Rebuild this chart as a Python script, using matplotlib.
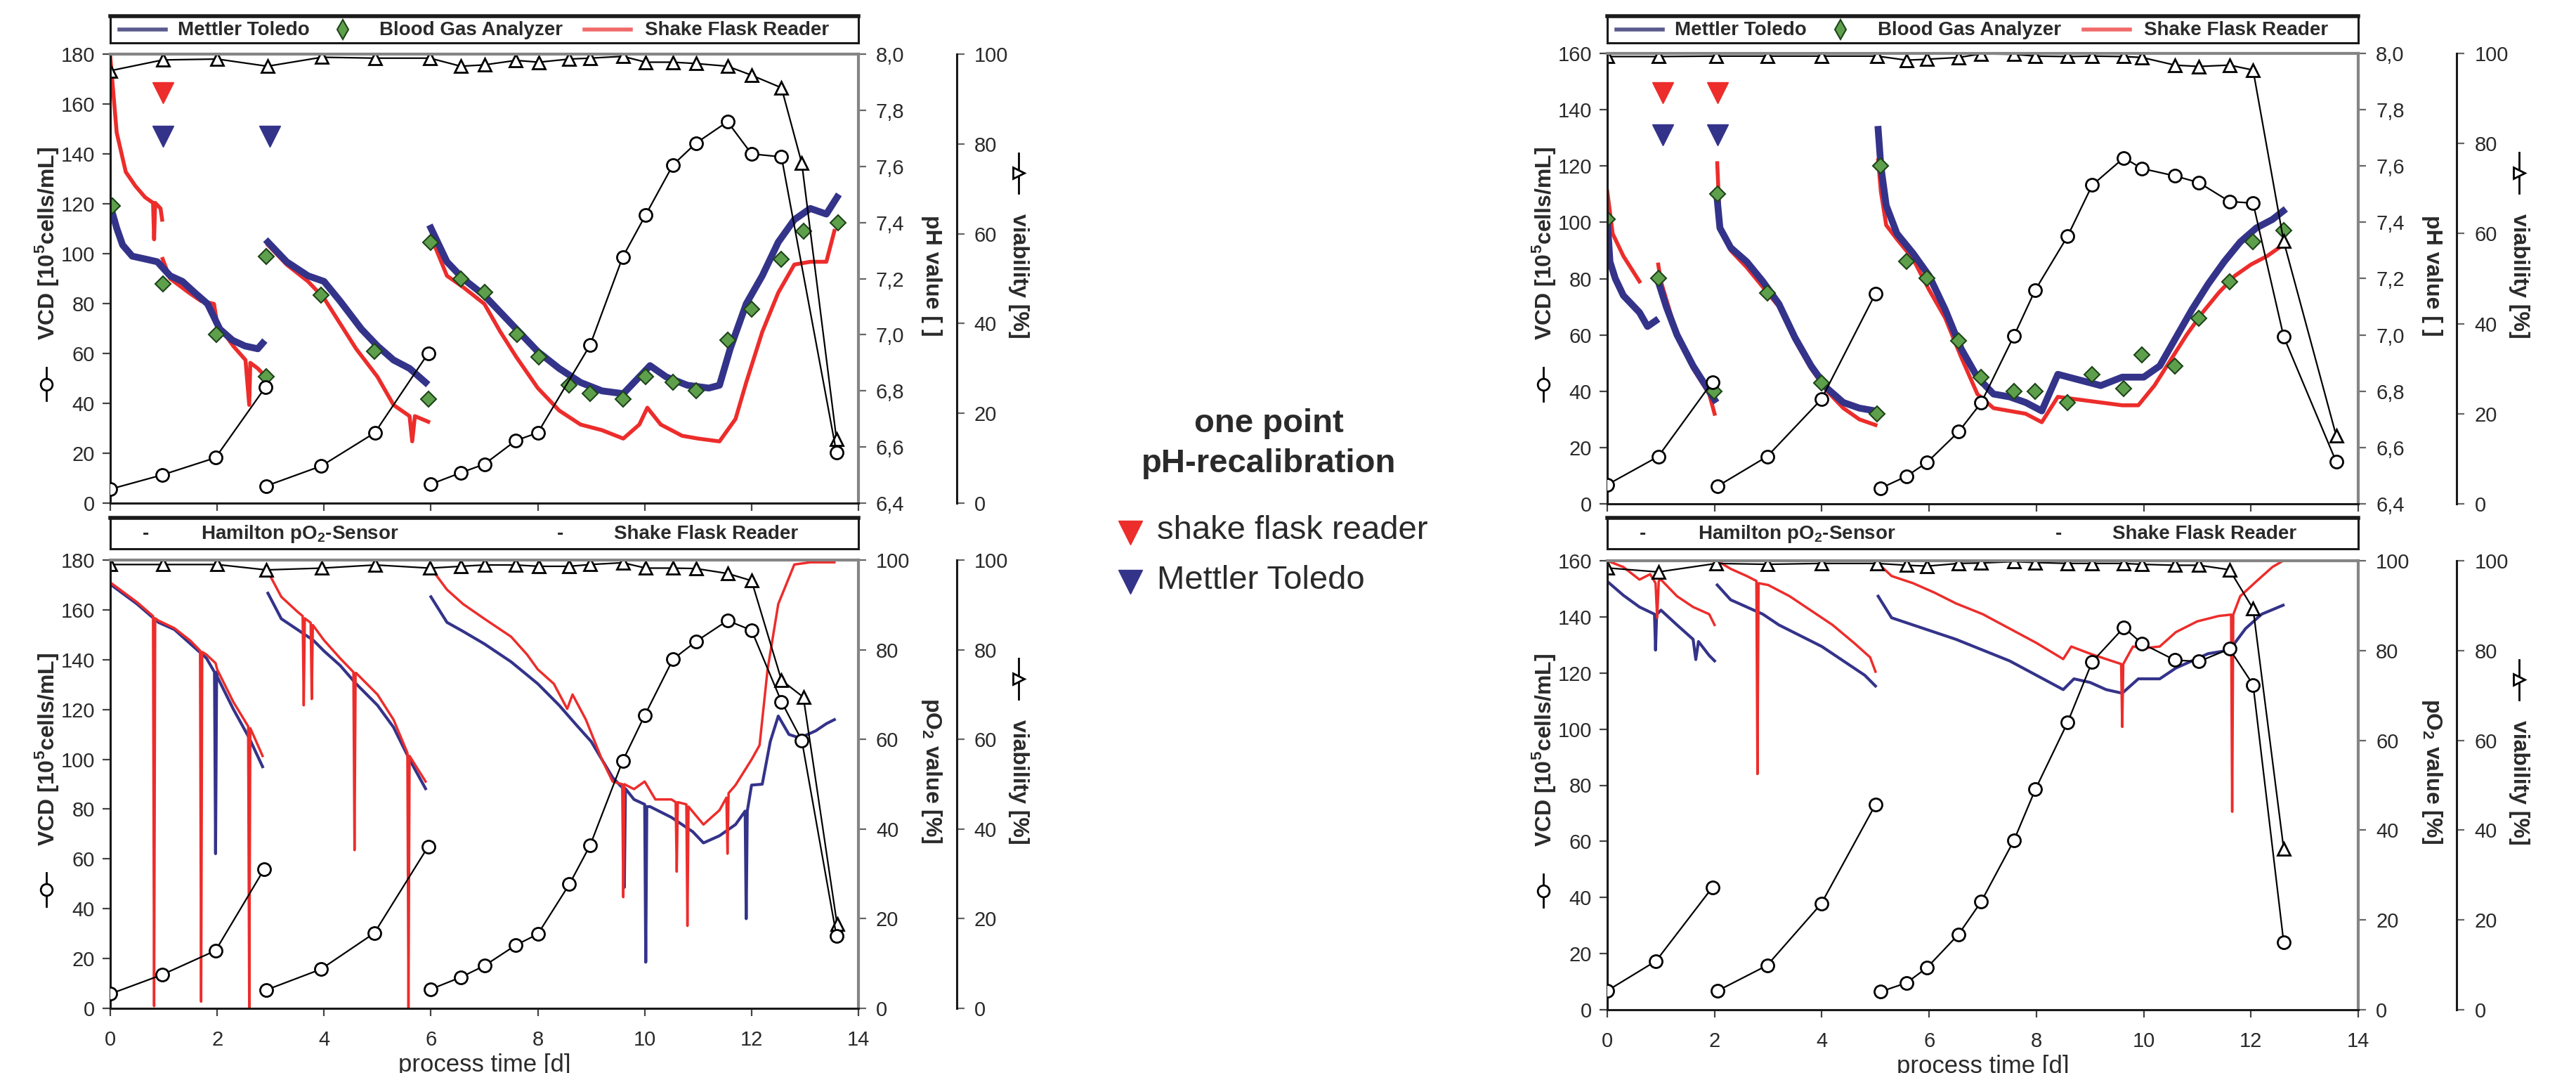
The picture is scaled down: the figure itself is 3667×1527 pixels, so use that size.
import matplotlib
matplotlib.use('Agg')
import matplotlib.pyplot as plt
from matplotlib.lines import Line2D
from matplotlib.ticker import MultipleLocator, FuncFormatter

plt.rcParams['font.family'] = ['Liberation Sans', 'DejaVu Sans']
plt.rcParams['mathtext.fontset'] = 'custom'
plt.rcParams['mathtext.rm'] = 'Liberation Sans'
plt.rcParams['mathtext.bf'] = 'Liberation Sans:bold'

# ================= data: top left (pH, run 1) =================
tl_vcd_days = [[0, 0.97, 1.97, 2.9], [2.92, 3.95, 4.95, 5.95],
               [6.0, 6.56, 7.0, 7.59, 8.0, 8.98, 9.59, 10.02, 10.53, 10.96, 11.55, 12.0, 12.56, 13.59]]
tl_vcd = [[5.6, 11.3, 18.2, 46.4], [6.9, 14.9, 28.2, 60.1],
          [7.6, 12.2, 15.6, 25.1, 28.2, 63.4, 98.7, 115.6, 135.6, 144.3, 152.9, 140.0, 138.8, 20.2]]
tl_via_days = [0, 0.98, 2.0, 2.94, 3.96, 4.96, 5.98, 6.56, 7.0, 7.59, 8.02, 8.59, 8.98, 9.59,
               10.02, 10.53, 10.96, 11.55, 12.0, 12.56, 12.94, 13.59]
tl_via = [96.3, 98.7, 98.9, 97.3, 99.3, 99.1, 99.1, 97.3, 97.6, 98.6, 98.2, 98.9, 99.1, 99.5,
          98.2, 98.2, 97.9, 97.3, 95.3, 92.5, 75.7, 14.2]
tl_bga_days = [0.04, 0.98, 1.98, 2.92, 2.92, 3.94, 4.94, 5.95, 6.0, 6.56, 7.0, 7.61, 8.02, 8.59,
               8.98, 9.59, 10.02, 10.53, 10.96, 11.55, 12.0, 12.56, 12.97, 13.62]
tl_bga = [7.46, 7.18, 7.00, 6.85, 7.28, 7.14, 6.94, 6.77, 7.33, 7.20, 7.15, 7.00, 6.92, 6.82,
          6.79, 6.77, 6.85, 6.83, 6.80, 6.98, 7.09, 7.27, 7.37, 7.40]
tl_mt_days = [[0, 0.12, 0.23, 0.41, 0.65, 0.88, 1.12, 1.35, 1.58, 1.82, 2.05, 2.29, 2.52, 2.76, 2.85],
              [2.95, 3.3, 3.7, 4.0, 4.3, 4.7, 5.0, 5.3, 5.6, 5.9],
              [6.0, 6.3, 6.6, 7.0, 7.3, 7.6, 8.0, 8.4, 8.8, 9.2, 9.6, 9.9, 10.1, 10.4, 10.8, 11.2,
               11.4, 11.6, 11.9, 12.2, 12.5, 12.8, 13.1, 13.4, 13.6]]
tl_mt_ph = [[7.46, 7.38, 7.32, 7.28, 7.27, 7.26, 7.21, 7.19, 7.15, 7.11, 7.02, 6.98, 6.96, 6.95, 6.97],
            [7.33, 7.26, 7.21, 7.19, 7.12, 7.02, 6.96, 6.91, 6.88, 6.83],
            [7.38, 7.26, 7.20, 7.14, 7.08, 7.02, 6.94, 6.88, 6.83, 6.80, 6.79, 6.85, 6.89, 6.85, 6.82,
             6.81, 6.82, 6.95, 7.11, 7.21, 7.33, 7.41, 7.45, 7.43, 7.49]]
tl_sfr_days = [[0, 0.12, 0.29, 0.47, 0.65, 0.8, 0.82, 0.84, 0.94, 0.97],
               [0.98, 1.12, 1.47, 1.7, 1.94, 2.0, 2.3, 2.53, 2.6, 2.62, 2.76, 2.86],
               [2.95, 3.3, 3.7, 4.0, 4.3, 4.6, 5.0, 5.3, 5.6, 5.65, 5.7, 5.95],
               [6.0, 6.3, 6.6, 7.0, 7.3, 7.6, 8.0, 8.4, 8.8, 9.2, 9.6, 9.9, 10.05, 10.3, 10.7, 11.0,
                11.4, 11.7, 11.9, 12.2, 12.5, 12.8, 13.1, 13.4, 13.55]]
tl_sfr_ph = [[7.99, 7.72, 7.58, 7.53, 7.49, 7.47, 7.34, 7.47, 7.45, 7.41],
             [7.27, 7.20, 7.15, 7.12, 7.11, 7.04, 6.96, 6.91, 6.75, 6.90, 6.88, 6.86],
             [7.32, 7.25, 7.19, 7.13, 7.04, 6.95, 6.85, 6.75, 6.71, 6.62, 6.71, 6.69],
             [7.35, 7.21, 7.17, 7.11, 7.01, 6.92, 6.81, 6.73, 6.68, 6.66, 6.63, 6.68, 6.74, 6.68, 6.64,
              6.63, 6.62, 6.70, 6.83, 7.01, 7.15, 7.25, 7.26, 7.26, 7.37]]
tl_recal_red_days = [0.98]
tl_recal_red_y = [164.5]
tl_recal_blue_days = [0.98, 2.98]
tl_recal_blue_y = [147, 147]

# ================= data: bottom left (pO2, run 1) =================
bl_vcd_days = [[0, 0.97, 1.97, 2.88], [2.92, 3.94, 4.94, 5.95],
               [6.0, 6.56, 7.0, 7.59, 8.0, 8.59, 8.98, 9.59, 10.0, 10.53, 10.96, 11.55, 12.0, 12.56, 12.94, 13.59]]
bl_vcd = [[5.8, 13.5, 23.2, 55.9], [7.4, 15.7, 30.2, 65.0],
          [7.7, 12.5, 17.1, 25.4, 29.8, 49.8, 65.5, 99.4, 117.6, 140.2, 147.3, 155.7, 151.8, 123.1, 107.6, 29.0]]
bl_via_days = [0, 0.98, 2.0, 2.92, 3.96, 4.96, 5.98, 6.56, 7.0, 7.59, 8.02, 8.59, 8.98, 9.59,
               10.02, 10.53, 10.96, 11.55, 12.0, 12.56, 12.97, 13.6]
bl_via = [99, 99, 99, 97.8, 98.2, 98.9, 98.2, 98.6, 98.9, 98.9, 98.6, 98.6, 99, 99.4,
          98.2, 98.2, 98.1, 97.0, 95.4, 73.2, 69.4, 18.8]
bl_ham_days = [[0, 0.5, 0.9, 1.2, 1.5, 1.8, 1.95, 1.97, 1.99, 2.0, 2.3, 2.6, 2.85],
               [2.95, 3.2, 3.5, 3.8, 4.0, 4.3, 4.6, 5.0, 5.3, 5.6, 5.9],
               [6.0, 6.3, 6.6, 7.0, 7.5, 8.0, 8.4, 8.7, 9.0, 9.4, 9.6, 9.62, 9.64, 9.8, 10.0, 10.02,
                10.04, 10.1, 10.5, 10.9, 11.1, 11.4, 11.7, 11.88, 11.9, 11.92, 12.0, 12.2, 12.35, 12.5,
                12.7, 12.9, 13.2, 13.4, 13.55]]
bl_ham_po2 = [[94.6, 90.2, 86.1, 84.5, 81.3, 78.1, 75.0, 34.5, 75.0, 74.0, 66.8, 60.3, 53.9],
              [92.6, 86.9, 84.5, 82.1, 79.7, 76.5, 72.4, 67.6, 62.7, 55.5, 49.0],
              [91.8, 86.1, 84.1, 81.3, 77.3, 72.4, 67.6, 63.5, 59.5, 51.5, 49.0, 27.0, 49.0, 46.6, 45.5,
               10.3, 45.0, 45.0, 42.6, 39.4, 36.9, 38.5, 41.0, 44.0, 20.0, 44.0, 49.8, 50.0, 59.5, 65.2,
               61.1, 60.3, 61.9, 63.5, 64.4]]
bl_sfr_days = [[0, 0.5, 0.8, 0.82, 0.84, 0.9, 1.2, 1.5, 1.68, 1.7, 1.72, 1.8, 1.97, 2.0, 2.3, 2.58,
                2.6, 2.62, 2.85],
               [2.95, 3.2, 3.5, 3.6, 3.62, 3.64, 3.75, 3.77, 3.79, 4.0, 4.3, 4.55, 4.57, 4.59, 4.6, 5.0,
                5.3, 5.56, 5.58, 5.6, 5.9],
               [6.0, 6.3, 6.6, 7.0, 7.5, 7.8, 8.0, 8.3, 8.55, 8.65, 8.9, 9.2, 9.4, 9.58, 9.6, 9.62, 9.8,
                10.0, 10.2, 10.5, 10.58, 10.6, 10.62, 10.78, 10.8, 10.82, 11.1, 11.4, 11.53, 11.55,
                11.57, 11.7, 12.0, 12.15, 12.3, 12.5, 12.8, 13.1, 13.55]]
bl_sfr_po2 = [[95.0, 90.6, 87.5, 0.5, 87.0, 86.5, 84.8, 82.0, 79.8, 1.5, 79.5, 78.9, 77.0, 75.6, 68.4,
               62.9, 0.0, 62.5, 56.3],
              [97.4, 91.8, 88.5, 87.5, 67.6, 87.0, 86.0, 69.0, 85.5, 82.1, 78.1, 75.0, 35.3, 74.8, 74.8,
               70.0, 64.4, 57.0, 0.0, 56.3, 50.6],
              [98.2, 93.4, 90.2, 86.9, 82.9, 78.9, 75.6, 72.4, 66.8, 70.0, 64.4, 55.5, 50.6, 50.0, 24.8,
               50.0, 48.9, 50.6, 46.6, 46.6, 46.0, 30.5, 46.0, 45.5, 18.4, 45.0, 41.0, 44.2, 47.0, 34.5,
               48.0, 49.8, 55.5, 58.7, 75.6, 90.2, 99.0, 99.5, 99.5]]

# ================= data: top right (pH, run 2) =================
tr_vcd_days = [[0, 0.95, 1.96], [2.05, 2.98, 3.99, 5.0],
               [5.09, 5.58, 5.96, 6.55, 6.97, 7.58, 7.98, 8.58, 9.04, 9.63, 9.97, 10.58, 11.03, 11.6,
                12.04, 12.61, 13.59]]
tr_vcd = [[6.8, 16.8, 43.3], [6.2, 16.8, 37.1, 74.7],
          [5.5, 9.8, 14.7, 25.6, 35.9, 59.6, 76.0, 95.0, 113.2, 122.9, 119.1, 116.5, 114.1, 107.4,
           106.8, 59.4, 14.9]]
tr_via_days = [0, 0.95, 2.03, 2.98, 3.99, 5.03, 5.58, 5.96, 6.55, 6.97, 7.58, 7.98, 8.58, 9.04,
               9.63, 9.97, 10.58, 11.03, 11.6, 12.04, 12.61, 13.59]
tr_via = [99.3, 99.3, 99.4, 99.4, 99.4, 99.4, 98.5, 98.7, 99.1, 99.9, 99.8, 99.4, 99.3, 99.4,
          99.3, 99.1, 97.4, 97.1, 97.4, 96.3, 58.3, 15.1]
tr_bga_days = [0, 0.95, 1.99, 2.05, 2.98, 3.99, 5.03, 5.09, 5.58, 5.96, 6.55, 6.97, 7.58, 7.98,
               8.58, 9.04, 9.63, 9.97, 10.58, 11.03, 11.6, 12.04, 12.61]
tr_bga = [7.41, 7.20, 6.80, 7.50, 7.15, 6.83, 6.72, 7.60, 7.26, 7.20, 6.98, 6.85, 6.80, 6.80,
          6.76, 6.86, 6.81, 6.93, 6.89, 7.06, 7.19, 7.33, 7.37]
tr_mt_days = [[0, 0.05, 0.15, 0.3, 0.45, 0.6, 0.75, 0.9],
              [0.95, 1.1, 1.3, 1.6, 1.9, 2.0],
              [2.05, 2.1, 2.3, 2.6, 2.9, 3.2, 3.5, 3.8, 4.1, 4.4, 4.7, 5.0],
              [5.05, 5.1, 5.2, 5.4, 5.7, 6.0, 6.3, 6.6, 6.9, 7.2, 7.5, 7.8, 8.1, 8.4, 8.8, 9.2, 9.6,
               10.0, 10.3, 10.6, 10.9, 11.2, 11.5, 11.8, 12.1, 12.4, 12.6]]
tr_mt_ph = [[7.41, 7.26, 7.20, 7.14, 7.11, 7.08, 7.03, 7.05],
            [7.19, 7.10, 7.00, 6.89, 6.80, 6.77],
            [7.48, 7.38, 7.31, 7.26, 7.19, 7.11, 6.99, 6.89, 6.81, 6.76, 6.74, 6.73],
            [7.73, 7.60, 7.46, 7.36, 7.29, 7.21, 7.09, 6.95, 6.85, 6.79, 6.78, 6.76, 6.73, 6.86, 6.84,
             6.82, 6.85, 6.85, 6.89, 6.99, 7.09, 7.18, 7.26, 7.33, 7.38, 7.41, 7.44]]
tr_sfr_days = [[0, 0.1, 0.3, 0.5, 0.6],
               [0.95, 1.0, 1.3, 1.6, 1.9, 2.0],
               [2.05, 2.1, 2.3, 2.6, 2.9, 3.2, 3.5, 3.8, 4.1, 4.4, 4.7, 5.0],
               [5.05, 5.1, 5.2, 5.4, 5.7, 6.0, 6.3, 6.6, 6.9, 7.2, 7.5, 7.8, 8.1, 8.4, 8.8, 9.2, 9.6,
                9.9, 10.2, 10.5, 10.8, 11.1, 11.4, 11.7, 12.0, 12.3, 12.6]]
tr_sfr_ph = [[7.51, 7.36, 7.28, 7.22, 7.19],
             [7.25, 7.19, 7.00, 6.88, 6.79, 6.72],
             [7.61, 7.39, 7.30, 7.24, 7.17, 7.10, 6.98, 6.88, 6.80, 6.74, 6.70, 6.68],
             [7.62, 7.51, 7.39, 7.34, 7.27, 7.16, 7.06, 6.92, 6.79, 6.74, 6.73, 6.72, 6.69, 6.78, 6.77,
              6.76, 6.75, 6.75, 6.82, 6.91, 7.00, 7.08, 7.15, 7.21, 7.25, 7.28, 7.32]]
tr_recal_red_days = [1.04, 2.05]
tr_recal_red_y = [146, 146]
tr_recal_blue_days = [1.04, 2.05]
tr_recal_blue_y = [131, 131]

# ================= data: bottom right (pO2, run 2) =================
br_vcd_days = [[0, 0.91, 1.96], [2.05, 2.98, 3.99, 5.0],
               [5.09, 5.58, 5.96, 6.55, 6.97, 7.58, 7.98, 8.58, 9.04, 9.63, 9.97, 10.58, 11.03, 11.6,
                12.04, 12.61]]
br_vcd = [[6.8, 17.4, 43.6], [6.7, 15.8, 37.8, 73.1],
          [6.4, 9.6, 15.0, 26.9, 38.5, 60.3, 78.5, 102.3, 124.0, 136.2, 130.5, 124.6, 124.1, 128.6,
           115.8, 24.1]]
br_via_days = [0, 0.95, 2.03, 2.98, 3.99, 5.03, 5.58, 5.96, 6.55, 6.97, 7.58, 7.98, 8.58, 9.04,
               9.63, 9.97, 10.58, 11.03, 11.6, 12.04, 12.61]
br_via = [98.4, 97.5, 99.4, 99.2, 99.4, 99.4, 99.0, 98.8, 99.4, 99.5, 99.8, 99.6, 99.4, 99.4,
          99.4, 99.2, 99.0, 99.0, 98.0, 89.3, 35.9]
br_ham_days = [[0, 0.3, 0.6, 0.88, 0.9, 0.92, 1.0, 1.3, 1.6, 1.65, 1.7, 1.9, 2.0],
               [2.05, 2.3, 2.6, 2.9, 3.2, 3.6, 4.0, 4.4, 4.8, 5.0],
               [5.05, 5.3, 5.7, 6.1, 6.5, 7.0, 7.5, 8.0, 8.5, 8.7, 9.0, 9.3, 9.6, 9.9, 10.3, 10.6,
                10.9, 11.2, 11.6, 11.9, 12.2, 12.6]]
br_ham_po2 = [[95.4, 92.3, 89.7, 88.1, 80.1, 88.0, 89.0, 85.7, 82.5, 78.0, 82.0, 78.9, 77.7],
              [94.6, 91.3, 89.7, 88.1, 85.7, 83.3, 80.9, 77.7, 74.5, 72.1],
              [92.1, 87.3, 85.7, 84.1, 82.5, 80.1, 77.7, 74.5, 71.3, 73.7, 72.9, 71.3, 70.5, 73.7,
               73.7, 76.1, 77.7, 79.3, 80.1, 84.9, 88.1, 90.1]]
br_sfr_days = [[0, 0.3, 0.6, 0.8, 0.9, 0.93, 0.96, 1.0, 1.3, 1.6, 1.9, 2.0],
               [2.05, 2.3, 2.6, 2.78, 2.8, 2.82, 3.0, 3.4, 3.8, 4.2, 4.6, 4.9, 5.0],
               [5.05, 5.3, 5.7, 6.1, 6.5, 7.0, 7.5, 8.0, 8.5, 8.65, 9.0, 9.3, 9.58, 9.6, 9.62, 9.8,
                10.0, 10.3, 10.6, 11.0, 11.4, 11.63, 11.65, 11.67, 11.8, 12.1, 12.4, 12.6]]
br_sfr_po2 = [[100.0, 98.6, 95.8, 97.0, 95.0, 87.3, 95.5, 95.8, 92.1, 89.7, 88.1, 85.7],
              [100.0, 98.2, 96.6, 95.5, 52.5, 95.0, 94.6, 92.1, 88.9, 85.7, 81.7, 78.5, 75.3],
              [99.4, 96.6, 95.0, 92.9, 90.5, 88.1, 84.9, 81.7, 78.1, 80.9, 79.3, 78.1, 77.0, 63.0,
               77.0, 80.9, 80.5, 80.9, 84.1, 86.5, 87.7, 88.0, 44.1, 88.0, 92.1, 95.4, 98.6, 100.0]]

# ================= style =================
BLUE = '#34338a'
RED = '#ec2d2b'
GREEN = '#5e9f4c'
GREEN_EDGE = '#1d4419'
SPINE_GRAY = '#858585'
TXT = '#2a2a2a'
W, H = 3667, 1527

ph_fmt = FuncFormatter(lambda v, p: '{:.1f}'.format(v).replace('.', ','))
int_fmt = FuncFormatter(lambda v, p: '{:.0f}'.format(v))


def rect(x0, y0, x1, y1):
    return [x0 / W, 1 - y1 / H, (x1 - x0) / W, (y1 - y0) / H]


def label_symbol(ax, x, y0, y1, marker):
    # the little "line + marker" key that sits in front of an axis title
    ax.add_line(Line2D([x, x], [y0, y1], transform=ax.transAxes, color='black', lw=2,
                       clip_on=False))
    ax.add_line(Line2D([x], [(y0 + y1) / 2], transform=ax.transAxes, marker=marker, ms=12,
                       mfc='white', mec='black', mew=2, clip_on=False))


def make_panel(box, vcd_top, right_lim, right_step, right_fmt, right_label, right_y, xlabels):
    ax = fig.add_axes(rect(*box))
    ax2 = ax.twinx()
    ax3 = ax.twinx()
    ax2.set_zorder(1)
    ax3.set_zorder(2)
    ax.set_zorder(3)
    ax.patch.set_visible(False)
    ax3.patch.set_visible(False)

    ax.set_xlim(0, 14)
    ax.set_ylim(0, vcd_top)
    ax.xaxis.set_major_locator(MultipleLocator(2))
    ax.yaxis.set_major_locator(MultipleLocator(20))
    ax2.set_ylim(*right_lim)
    ax2.yaxis.set_major_locator(MultipleLocator(right_step))
    ax2.yaxis.set_major_formatter(right_fmt)
    ax3.set_ylim(0, 100)
    ax3.yaxis.set_major_locator(MultipleLocator(20))

    for s in ['left', 'bottom']:
        ax.spines[s].set_color('#1a1a1a')
        ax.spines[s].set_linewidth(2.2)
    for s in ['top', 'right']:
        ax.spines[s].set_color(SPINE_GRAY)
        ax.spines[s].set_linewidth(3)
    for s in ax2.spines.values():
        s.set_visible(False)
    for k, s in ax3.spines.items():
        s.set_visible(k == 'right')
    ax3.spines['right'].set_position(('axes', 1 + 140 / 1066))
    ax3.spines['right'].set_color('#1a1a1a')
    ax3.spines['right'].set_linewidth(2.2)

    ax.tick_params(axis='y', direction='out', length=8, width=1.6, pad=8, labelsize=21,
                   color='#444444', labelcolor=TXT)
    ax.tick_params(axis='x', direction='out', length=8, width=1.6, pad=14, labelsize=21,
                   color='#444444', labelcolor=TXT, labelbottom=xlabels)
    ax2.tick_params(axis='y', direction='out', length=8, width=1.6, pad=10, labelsize=21,
                    color='#666666', labelcolor=TXT)
    ax3.tick_params(axis='y', direction='out', length=8, width=1.6, pad=10, labelsize=21,
                    color='#666666', labelcolor=TXT)
    ax3.yaxis.set_major_formatter(int_fmt)

    lab = dict(fontsize=23, fontweight='bold', color=TXT, ha='center', va='center')
    ax.text(-0.085, 0.578, 'VCD [10$^\\mathbf{5}$cells/mL]', transform=ax.transAxes,
            rotation=90, **lab)
    label_symbol(ax, -0.085, 0.228, 0.302, 'o')
    ax.text(1.098, right_y, right_label, transform=ax.transAxes, rotation=270, **lab)
    ax.text(1.214, 0.505, 'viability [%]', transform=ax.transAxes, rotation=270, **lab)
    label_symbol(ax, 1.214, 0.69, 0.78, '>')
    if xlabels:
        ax.set_xlabel('process time [d]', fontsize=25, color=TXT, labelpad=4)
    return ax, ax2, ax3


def plot_vcd_via(ax, ax3, vcd_days, vcd, via_days, via):
    for d, v in zip(vcd_days, vcd):
        ax.plot(d, v, color='black', lw=1.6, marker='o', ms=13, mfc='white', mec='black', mew=2,
                zorder=5)
    ax3.plot(via_days, via, color='black', lw=1.6, marker='^', ms=13, mfc='white', mec='black',
             mew=2, zorder=5)


def legend_box(box, entries):
    lg = fig.add_axes(rect(*box))
    lg.set_xlim(0, 1)
    lg.set_ylim(0, 1)
    lg.set_xticks([])
    lg.set_yticks([])
    for s in lg.spines.values():
        s.set_linewidth(2.2)
        s.set_color('#1a1a1a')
    lg.spines['top'].set_linewidth(4)
    for kind, x, payload in entries:
        if kind == 'line':
            lg.plot([x, x + 0.062], [0.5, 0.5], color=payload, lw=4)
        elif kind == 'diamond':
            lg.plot([x], [0.5], marker='d', ms=14, mfc=GREEN, mec=GREEN_EDGE, mew=1.5)
        else:
            lg.text(x, 0.47, payload, fontsize=20, fontweight='bold', color=TXT, va='center',
                    ha='left')


fig = plt.figure(figsize=(W / 100, H / 100), dpi=100)

# ---------- pH panels ----------
for box, top, vd, vv, wd, wv, bd, bv, md, mv, sd, sv, rrd, rry, rbd, rby in [
        ((157, 77, 1222, 716), 180, tl_vcd_days, tl_vcd, tl_via_days, tl_via, tl_bga_days, tl_bga,
         tl_mt_days, tl_mt_ph, tl_sfr_days, tl_sfr_ph, tl_recal_red_days, tl_recal_red_y,
         tl_recal_blue_days, tl_recal_blue_y),
        ((2288, 76, 3357, 717), 160, tr_vcd_days, tr_vcd, tr_via_days, tr_via, tr_bga_days, tr_bga,
         tr_mt_days, tr_mt_ph, tr_sfr_days, tr_sfr_ph, tr_recal_red_days, tr_recal_red_y,
         tr_recal_blue_days, tr_recal_blue_y)]:
    ax, ax2, ax3 = make_panel(box, top, (6.4, 8.0), 0.2, ph_fmt, 'pH value [ ]', 0.507, False)
    for d, v in zip(sd, sv):
        ax2.plot(d, v, color=RED, lw=4, solid_joinstyle='round')
    for d, v in zip(md, mv):
        ax2.plot(d, v, color=BLUE, lw=7, solid_joinstyle='round')
    ax2.plot(bd, bv, ls='none', marker='D', ms=11, mfc=GREEN, mec=GREEN_EDGE, mew=1.5, zorder=6)
    plot_vcd_via(ax, ax3, vd, vv, wd, wv)
    ax.plot(rrd, rry, ls='none', marker='v', ms=22, color=RED, zorder=6)
    ax.plot(rbd, rby, ls='none', marker='v', ms=22, color=BLUE, zorder=6)

# ---------- pO2 panels ----------
for box, top, vd, vv, wd, wv, hd, hv, sd, sv in [
        ((157, 797, 1222, 1435), 180, bl_vcd_days, bl_vcd, bl_via_days, bl_via,
         bl_ham_days, bl_ham_po2, bl_sfr_days, bl_sfr_po2),
        ((2288, 798, 3357, 1437), 160, br_vcd_days, br_vcd, br_via_days, br_via,
         br_ham_days, br_ham_po2, br_sfr_days, br_sfr_po2)]:
    ax, ax2, ax3 = make_panel(box, top, (0, 100), 20, int_fmt,
                              'pO$_\\mathbf{2}$ value [%]', 0.53, True)
    for d, v in zip(hd, hv):
        ax2.plot(d, v, color=BLUE, lw=3)
    for d, v in zip(sd, sv):
        ax2.plot(d, v, color=RED, lw=2.5)
    plot_vcd_via(ax, ax3, vd, vv, wd, wv)

# ---------- legend boxes ----------
top_entries = [('line', 0.012, '#5a5a8e'), ('text', 0.090, 'Mettler Toledo'),
               ('diamond', 0.311, None), ('text', 0.360, 'Blood Gas Analyzer'),
               ('line', 0.634, '#f06a6a'), ('text', 0.715, 'Shake Flask Reader')]
bottom_entries = [('text', 0.043, '-'), ('text', 0.121, 'Hamilton pO$_\\mathbf{2}$-Sensor'),
                  ('text', 0.597, '-'), ('text', 0.673, 'Shake Flask Reader')]
legend_box((157, 23, 1222, 61), top_entries)
legend_box((2288, 23, 3357, 61), top_entries)
legend_box((157, 737, 1222, 781), bottom_entries)
legend_box((2288, 737, 3357, 781), bottom_entries)

# ---------- recalibration note ----------
fig.text(1806 / W, 1 - 603 / H, 'one point', fontsize=34, fontweight='bold', color=TXT,
         ha='center', va='center')
fig.text(1806 / W, 1 - 660 / H, 'pH-recalibration', fontsize=34, fontweight='bold', color=TXT,
         ha='center', va='center')
fig.add_artist(Line2D([1609 / W], [1 - 758 / H], marker='v', ms=24, color=RED, ls='none',
                      transform=fig.transFigure))
fig.add_artist(Line2D([1609 / W], [1 - 828 / H], marker='v', ms=24, color=BLUE, ls='none',
                      transform=fig.transFigure))
fig.text(1647 / W, 1 - 755 / H, 'shake flask reader', fontsize=34, color=TXT, va='center')
fig.text(1647 / W, 1 - 826 / H, 'Mettler Toledo', fontsize=34, color=TXT, va='center')

fig.savefig('out.png', dpi=100, facecolor='white')
